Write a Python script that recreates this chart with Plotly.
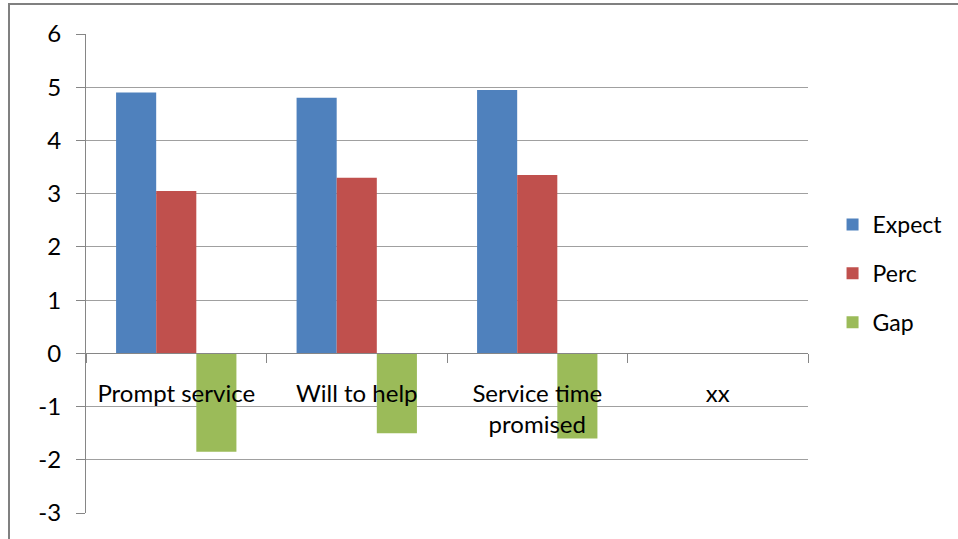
import plotly.graph_objects as go

# Service quality scores per attribute
categories = ["Prompt service", "Will to help", "Service time promised", "xx"]
category_labels = ["Prompt service", "Will to help", "Service time<br>promised", "xx"]
expect = [4.9, 4.8, 4.95, None]
perc = [3.05, 3.3, 3.35, None]
gap = [-1.85, -1.5, -1.6, None]

y_ticks = [-3, -2, -1, 0, 1, 2, 3, 4, 5, 6]
y_tick_labels = ["-3", "-2", "-1", "0", "1", "2", "3", "4", "5", "6"]

FONT = "Lato"
GRID = "#A0A0A0"
AXIS = "#868686"

fig = go.Figure()
series = [("Expect", expect, "#4F81BD"), ("Perc", perc, "#C0504D"), ("Gap", gap, "#9BBB59")]
for name, vals, color in series:
    fig.add_trace(go.Bar(
        x=categories, y=vals, name=name, legendgroup=name,
        marker=dict(color=color, line=dict(width=0)),
    ))

fig.update_layout(
    width=958, height=539,
    margin=dict(l=86, r=150, t=34, b=26, autoexpand=False),
    paper_bgcolor="white", plot_bgcolor="white",
    barmode="group", bargap=1/3, bargroupgap=0,
    font=dict(family=FONT, size=24, color="#000000"),
    showlegend=True,
    legend=dict(
        x=1.034, xanchor="left", y=0.5, yanchor="middle",
        font=dict(family=FONT, size=23, color="#000000"),
        tracegroupgap=16, itemclick=False,
        bgcolor="rgba(0,0,0,0)",
    ),
    xaxis=dict(
        type="category", categoryorder="array", categoryarray=categories,
        range=[-0.5, 3.5],
        tickvals=categories, ticktext=category_labels,
        anchor="free", position=1/3,
        showline=True, linecolor=AXIS, linewidth=1,
        ticks="outside", tickson="boundaries", ticklen=9, tickcolor=AXIS,
        showgrid=False, zeroline=False,
        tickfont=dict(family=FONT, size=24, color="#000000"),
        ticklabelstandoff=19,
        layer="above traces",
    ),
    yaxis=dict(
        range=[-3, 6], tickvals=y_ticks, ticktext=y_tick_labels,
        showline=True, linecolor=AXIS, linewidth=1,
        ticks="outside", ticklen=9, tickcolor=AXIS,
        showgrid=True, gridcolor=GRID, gridwidth=1,
        zeroline=False,
        tickfont=dict(family=FONT, size=24, color="#000000"),
        ticklabelstandoff=10,
    ),
    shapes=[dict(
        type="rect", xref="paper", yref="paper",
        x0=(9 - 86) / 722, x1=(980 - 86) / 722,
        y0=(513 - 560) / 479, y1=(513 - 4) / 479,
        line=dict(color="#808080", width=2), fillcolor="rgba(0,0,0,0)",
        layer="below",
    )],
)

fig.write_html("out.html")
